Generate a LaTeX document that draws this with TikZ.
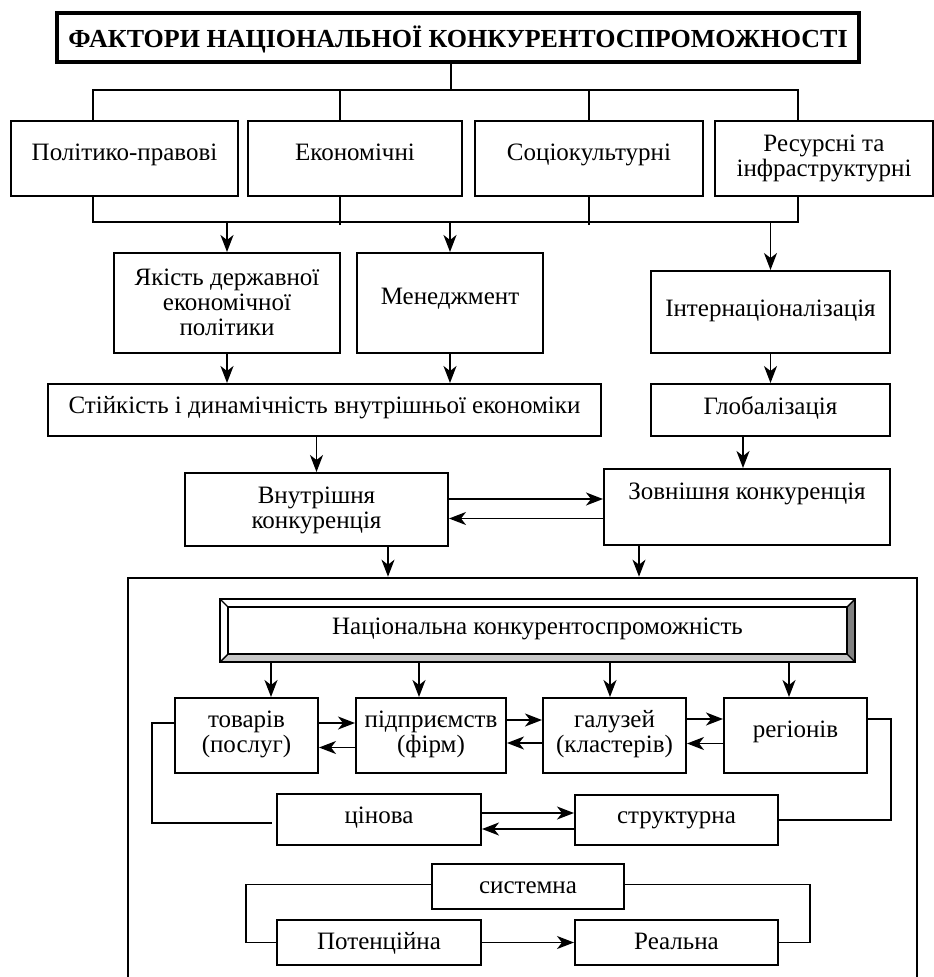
\documentclass[tikz,border=0pt]{standalone}
\usepackage{fontspec}
\setmainfont{Liberation Serif}
\usetikzlibrary{arrows.meta,calc}

\tikzset{
  box/.style={draw, line width=2pt, inner sep=0pt, rectangle},
  txt/.style={inner sep=0pt, font=\fontsize{25}{25}\selectfont},
  mtxt/.style={inner sep=0pt, align=center, font=\fontsize{25}{25}\selectfont},
  conn/.style={line width=1.8pt},
  arr/.style={line width=1.8pt, -{Stealth[length=17pt,width=13pt,inset=5pt]}}
}

\begin{document}
\begin{tikzpicture}[x=1pt,y=-1pt]
\useasboundingbox (0,0) rectangle (934,977);

% --- title and the four groups of factors ---
\node[box, line width=3.2pt, minimum width=802pt, minimum height=49pt] (title) at (458,37.5) {};
\node[txt, anchor=base, font=\fontsize{26}{26}\selectfont\bfseries] (titleT) at (458,47) {ФАКТОРИ НАЦІОНАЛЬНОЇ КОНКУРЕНТОСПРОМОЖНОСТІ};

\node[box, minimum width=227pt, minimum height=75pt] (f1) at (124.5,158.5) {};
\node[box, minimum width=214pt, minimum height=75pt] (f2) at (355,158.5) {};
\node[box, minimum width=228pt, minimum height=75pt] (f3) at (589,158.5) {};
\node[box, minimum width=218pt, minimum height=75pt] (f4) at (824,158.5) {};
\node[txt, anchor=base] (f1T) at (124.5,160) {Політико-правові};
\node[txt, anchor=base] (f2T) at (355,160) {Економічні};
\node[txt, anchor=base] (f3T) at (589,160) {Соціокультурні};
\node[mtxt] (f4T) at (824,158) {Ресурсні та\\інфраструктурні};

% --- intermediate factors ---
\node[box, minimum width=226pt, minimum height=100pt] (yak) at (227,303) {};
\node[mtxt] (yakT) at (227,302) {Якість державної\\економічної\\політики};
\node[box, minimum width=186pt, minimum height=100pt] (men) at (450,303) {};
\node[txt, anchor=base] (menT) at (450,304) {Менеджмент};
\node[box, minimum width=239pt, minimum height=82pt] (int) at (770.5,312) {};
\node[txt, anchor=base] (intT) at (770.5,316) {Інтернаціоналізація};

\node[box, minimum width=553pt, minimum height=52pt] (st) at (324.5,410) {};
\node[txt, anchor=base] (stT) at (324.5,413) {Стійкість і динамічність внутрішньої економіки};
\node[box, minimum width=239pt, minimum height=52pt] (gl) at (770.5,410) {};
\node[txt, anchor=base] (glT) at (770.5,414) {Глобалізація};

\node[box, minimum width=263pt, minimum height=73pt] (vn) at (316.5,509.5) {};
\node[mtxt] (vnT) at (316.5,510) {Внутрішня\\конкуренція};
\node[box, minimum width=286pt, minimum height=76pt] (zv) at (747,507) {};
\node[txt, anchor=base] (zvT) at (747,499.5) {Зовнішня конкуренція};

% --- connectors of the upper part ---
\coordinate (v1) at (93,90);
\coordinate (v2) at (340,90);
\coordinate (v3) at (589,90);
\coordinate (v4) at (798,90);
\coordinate (w1) at (93,222);
\coordinate (w4) at (798,222);
\coordinate (tb) at (451,90);

\draw[conn] (tb |- title.south) -- (tb);
\draw[conn] (v1 |- f1.north) -- (v1) -- (v4) -- (v4 |- f4.north);
\draw[conn] (v2) -- (v2 |- f2.north);
\draw[conn] (v3) -- (v3 |- f3.north);

\draw[conn] (w1 |- f1.south) -- (w1) -- (w4) -- (w4 |- f4.south);
\draw[conn] (v2 |- f2.south) -- ([yshift=-3pt]v2 |- w1);
\draw[conn] (v3 |- f3.south) -- ([yshift=-3pt]v3 |- w1);

\draw[arr] (yak.north |- w1) -- (yak.north);
\draw[arr] (men.north |- w1) -- (men.north);
\draw[arr] (int.north |- w1) -- (int.north);

\draw[arr] (yak.south) -- (yak.south |- st.north);
\draw[arr] (men.south) -- (men.south |- st.north);
\draw[arr] (int.south) -- (gl.north);
\draw[arr] (vn.north |- st.south) -- (vn.north);
\draw[arr] ([xshift=-4pt]zv.north |- gl.south) -- ([xshift=-4pt]zv.north);

\draw[arr] ([yshift=10.5pt]vn.east) -- ([yshift=10.5pt]vn.east -| zv.west);
\draw[arr] ([yshift=-11.5pt]zv.west) -- ([yshift=-11.5pt]zv.west -| vn.east);

% --- frame of national competitiveness ---
\node[draw, line width=2.6pt, inner sep=0pt, minimum width=789pt, minimum height=417pt] (frame) at (522.5,786.5) {};
\coordinate (d1) at (388,0);
\coordinate (d2) at (639,0);
\draw[arr] (d1 |- vn.south) -- (d1 |- frame.north);
\draw[arr] (d2 |- zv.south) -- (d2 |- frame.north);

% bevelled title bar
\node[inner sep=0pt, minimum width=635pt, minimum height=63pt] (nat) at (537.5,630.5) {};
\coordinate (iNW) at ($(nat.north west)+(8,8)$);
\coordinate (iNE) at ($(nat.north east)+(-8,8)$);
\coordinate (iSW) at ($(nat.south west)+(8,-8)$);
\coordinate (iSE) at ($(nat.south east)+(-8,-8)$);
\fill[black!22] (nat.south west) -- (nat.south east) -- (iSE) -- (iSW) -- cycle;
\fill[black!50] (nat.north east) -- (nat.south east) -- (iSE) -- (iNE) -- cycle;
\draw[line width=2pt] (nat.north west) rectangle (nat.south east);
\draw[line width=2pt] (iNW) rectangle (iSE);
\draw[line width=1.4pt] (nat.north west) -- (iNW) (nat.north east) -- (iNE)
  (nat.south west) -- (iSW) (nat.south east) -- (iSE);
\node[txt, anchor=base] (natT) at (537.5,634) {Національна конкурентоспроможність};

% levels
\node[box, minimum width=143pt, minimum height=75pt] (tov) at (246.5,735.5) {};
\node[box, minimum width=150pt, minimum height=75pt] (pid) at (431,735.5) {};
\node[box, minimum width=143pt, minimum height=75pt] (hal) at (614.5,735.5) {};
\node[box, minimum width=143pt, minimum height=75pt] (reg) at (795.5,735.5) {};
\node[mtxt] (tovT) at (246.5,734) {товарів\\(послуг)};
\node[mtxt] (pidT) at (431,734) {підприємств\\(фірм)};
\node[mtxt] (halT) at (614.5,734) {галузей\\(кластерів)};
\node[txt, anchor=base] (regT) at (795.5,737) {регіонів};

\draw[arr] ([xshift=24.5pt]tov.north |- nat.south) -- ([xshift=24.5pt]tov.north);
\draw[arr] ([xshift=-12pt]pid.north |- nat.south) -- ([xshift=-12pt]pid.north);
\draw[arr] ([xshift=-4.5pt]hal.north |- nat.south) -- ([xshift=-4.5pt]hal.north);
\draw[arr] ([xshift=-6.5pt]reg.north |- nat.south) -- ([xshift=-6.5pt]reg.north);

\draw[arr] ([yshift=12.5pt]tov.east) -- ([yshift=12.5pt]tov.east -| pid.west);
\draw[arr] ([yshift=-12pt]pid.west) -- ([yshift=-12pt]pid.west -| tov.east);
\draw[arr] ([yshift=15.5pt]pid.east) -- ([yshift=15.5pt]pid.east -| hal.west);
\draw[arr] ([yshift=-7.5pt]hal.west) -- ([yshift=-7.5pt]hal.west -| pid.east);
\draw[arr] ([yshift=16.5pt]hal.east) -- ([yshift=16.5pt]hal.east -| reg.west);
\draw[arr] ([yshift=-8pt]reg.west) -- ([yshift=-8pt]reg.west -| hal.east);

% kinds of competitiveness
\node[box, minimum width=204pt, minimum height=51pt] (cin) at (379,819.5) {};
\node[txt, anchor=base] (cinT) at (379,823) {цінова};
\node[box, minimum width=203pt, minimum height=50pt] (str) at (676.5,820) {};
\node[txt, anchor=base] (strT) at (676.5,823) {структурна};

\draw[arr] ([yshift=6.5pt]cin.east) -- ([yshift=6.5pt]cin.east -| str.west);
\draw[arr] ([yshift=-9pt]str.west) -- ([yshift=-9pt]str.west -| cin.east);

\coordinate (lc) at (152,823);
\coordinate (lend) at (272,823);
\coordinate (rc) at (891,0);
\draw[conn] ([yshift=12.5pt]tov.west) -| (lc) -- (lend);
\draw[conn] ([yshift=16.5pt]reg.east) -| (rc |- str.east) -- (str.east);

\node[box, minimum width=192pt, minimum height=45pt] (sys) at (528,886.5) {};
\node[txt, anchor=base] (sysT) at (528,893) {системна};
\node[box, minimum width=204pt, minimum height=45pt] (pot) at (379,942.5) {};
\node[txt, anchor=base] (potT) at (379,949) {Потенційна};
\node[box, minimum width=203pt, minimum height=45pt] (rea) at (676.5,942.5) {};
\node[txt, anchor=base] (reaT) at (676.5,949) {Реальна};

\coordinate (sl) at (246,0);
\coordinate (sr) at (810,0);
\draw[conn] ([yshift=2pt]sys.west) -| (sl |- pot.west) -- (pot.west);
\draw[conn] ([yshift=2pt]sys.east) -| (sr |- rea.east) -- (rea.east);
\draw[arr] (pot.east) -- (rea.west);

\end{tikzpicture}
\end{document}
